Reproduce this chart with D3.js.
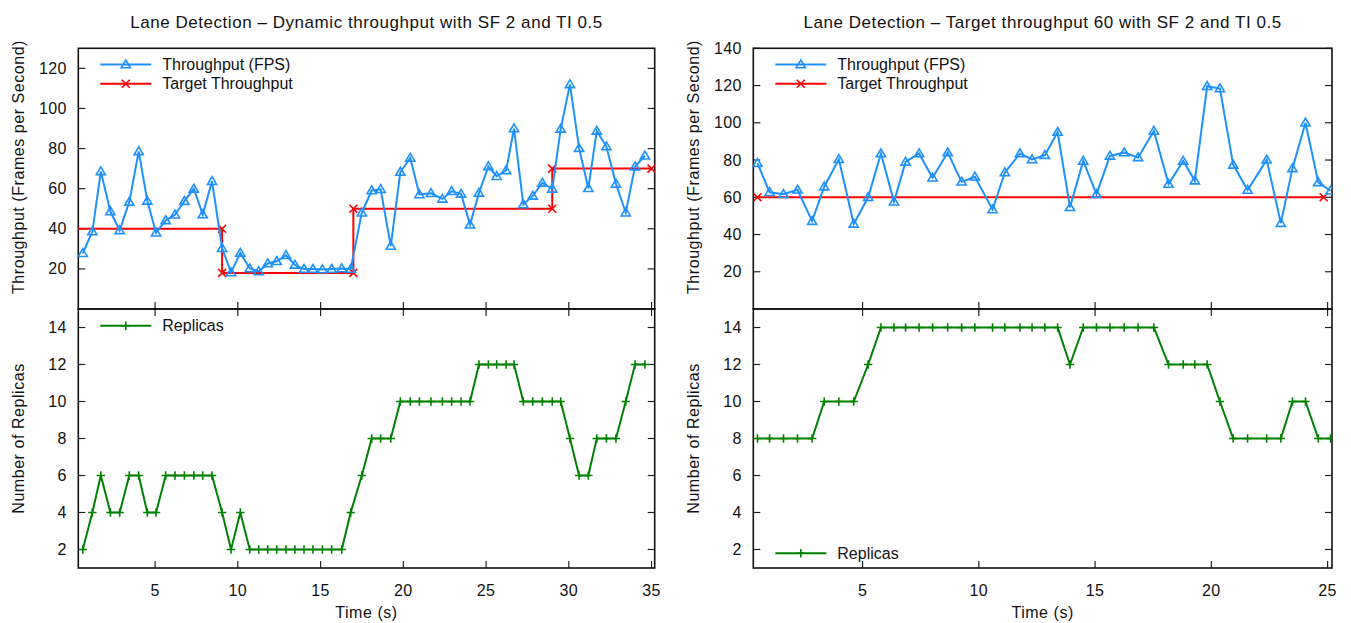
<!DOCTYPE html>
<html>
<head>
<meta charset="utf-8">
<script src="https://cdn.jsdelivr.net/npm/d3@7"></script>
<style>
body { margin: 0; background: #fff; }
text { font-family: "Liberation Sans", Arial, Helvetica, sans-serif; font-size: 16px; fill: #111; }
.title { font-size: 17px; letter-spacing: 0.55px; }
.axis_label { letter-spacing: 0.55px; }
</style>
</head>
<body>
<svg id="chart" width="1351" height="623"></svg>
<script>
// Left run: dynamic target
var left_time = [0.63,1.21,1.72,2.30,2.86,3.44,4.01,4.53,5.06,5.64,
    6.20,6.77,7.34,7.88,8.44,9.05,9.59,10.15,10.72,11.26,
    11.81,12.35,12.91,13.45,14.00,14.54,15.11,15.67,16.28,16.82,
    17.49,18.09,18.63,19.24,19.82,20.42,20.97,21.67,22.36,22.92,
    23.49,24.03,24.57,25.14,25.64,26.21,26.69,27.25,27.82,28.40,
    29.00,29.51,30.07,30.62,31.18,31.69,32.27,32.85,33.44,34.00,
    34.60];
var left_fps = [27.8,38.6,68.6,48.6,39.2,53.4,78.6,53.9,38,44.2,
    47,53.8,59.9,47.1,63.7,30.3,18.2,27.9,20.2,18.7,
    22.7,23.8,26.8,22,19.9,19.9,19.7,19.9,20.2,19.9,
    48,59.1,59.7,31.4,68.3,75.3,57.1,57.7,54.9,58.7,
    57.4,42,57.9,71.1,66.2,69.1,90,52.1,56.4,62.9,
    59.9,89.8,112,80.2,60.2,88.8,81,62.4,48,71,
    76.4];
var left_replicas = [2,4,6,4,4,6,6,4,4,6,
    6,6,6,6,6,4,2,4,2,2,
    2,2,2,2,2,2,2,2,2,4,
    6,8,8,8,10,10,10,10,10,10,
    10,10,12,12,12,12,12,10,10,10,
    10,10,8,6,6,8,8,8,10,12,
    12];
var left_target_time = [0,9.05,9.05,16.98,16.98,29.0,29.0,35.0];
var left_target_fps = [40,40,18,18,50,50,70,70];

// Right run: fixed target 60
var right_time = [0.48,1.00,1.60,2.20,2.83,3.35,3.98,4.62,5.24,5.79,
    6.35,6.85,7.43,8.01,8.66,9.26,9.83,10.59,11.12,11.77,
    12.29,12.84,13.39,13.92,14.49,15.06,15.64,16.25,16.85,17.53,
    18.16,18.79,19.29,19.82,20.37,20.94,21.56,22.38,22.99,23.49,
    24.05,24.60,25.13];
var right_fps = [78.3,62.7,61.6,64,47.2,65.7,80.4,45.7,60,83.5,
    57.6,79,83.5,70.5,84,68.3,71,53.4,73.3,83.5,
    80.3,82.6,95,54.6,79.5,61.7,82.2,84,81.4,95.6,
    67.1,79.5,68.9,119.6,118.4,77.4,63.9,80.1,46.1,75.5,
    100,68,63.5];
var right_replicas = [8,8,8,8,8,10,10,10,12,14,
    14,14,14,14,14,14,14,14,14,14,
    14,14,14,12,14,14,14,14,14,14,
    12,12,12,12,10,8,8,8,8,10,
    10,8,8];
var right_target_time = [0.48,24.83];
var right_target_fps = [60,60];

var left_xticks = [5,10,15,20,25,30,35];
var right_xticks = [5,10,15,20,25];
var left_fps_ticks = [20,40,60,80,100,120];
var right_fps_ticks = [20,40,60,80,100,120,140];
var replica_ticks = [2,4,6,8,10,12,14];

var blue = "#1e90ff", red = "#ff0000", green = "#008000";
var svg = d3.select("#chart");

function zip(xs, ys) {
    var res = [];
    for (var i = 0; i < xs.length; i++) res.push({t: xs[i], v: ys[i]});
    return res;
}

// gnuplot style marks
function tri_path(s) { return "M0," + (-s) + "L" + s + "," + (s * 0.7) + "L" + (-s) + "," + (s * 0.7) + "Z"; }
function cross_path(s) { return "M" + (-s) + "," + (-s) + "L" + s + "," + s + "M" + (-s) + "," + s + "L" + s + "," + (-s); }
function plus_path(s) { return "M" + (-s) + ",0L" + s + ",0M0," + (-s) + "L0," + s; }

function add_marks(g, pts, x, y, path, color, fill, sw) {
    g.selectAll(null)
    .data(pts)
    .enter()
    .append("path")
    .attr("transform", function(d) { return "translate(" + x(d.t) + "," + y(d.v) + ")"; })
    .attr("d", path)
    .style("stroke", color)
    .style("stroke-width", sw)
    .style("fill", fill);
}

function add_series(g, pts, x, y, color, path, fill) {
    var line = d3.line().x(function(d) { return x(d.t); }).y(function(d) { return y(d.v); });
    g.append("path")
    .datum(pts)
    .attr("d", line)
    .style("stroke", color)
    .style("stroke-width", 2)
    .style("fill", "none");
    add_marks(g, pts, x, y, path, color, fill, 1.6);
}

function legend_row(x0, yy, label, color, path) {
    svg.append("line")
    .attr("x1", x0).attr("x2", x0 + 51)
    .attr("y1", yy).attr("y2", yy)
    .style("stroke", color).style("stroke-width", 2);
    svg.append("path")
    .attr("transform", "translate(" + (x0 + 25.5) + "," + yy + ")")
    .attr("d", path)
    .style("stroke", color).style("stroke-width", 1.6).style("fill", "none");
    svg.append("text")
    .attr("x", x0 + 62).attr("y", yy).attr("dy", "0.35em")
    .text(label);
}

// One panel: frame, inward mirrored ticks, clipped data
function panel(id, x, y, yticks, xticks, show_xlabels) {
    var r = x.range(), b = y.range();
    svg.append("clipPath").attr("id", id)
    .append("rect").attr("x", r[0]).attr("y", b[1]).attr("width", r[1] - r[0]).attr("height", b[0] - b[1]);

    var ticks = svg.append("g").style("stroke", "#222").style("stroke-width", 1.2);
    yticks.forEach(function(v) {
        ticks.append("line").attr("x1", r[0]).attr("x2", r[0] + 7).attr("y1", y(v)).attr("y2", y(v));
        ticks.append("line").attr("x1", r[1]).attr("x2", r[1] - 7).attr("y1", y(v)).attr("y2", y(v));
        svg.append("text").attr("x", r[0] - 11.5).attr("y", y(v)).attr("dy", "0.35em")
        .style("text-anchor", "end").style("letter-spacing", "0.4px").text(v);
    });
    xticks.forEach(function(v) {
        ticks.append("line").attr("x1", x(v)).attr("x2", x(v)).attr("y1", b[0]).attr("y2", b[0] - 7);
        if (show_xlabels) {
            ticks.append("line").attr("x1", x(v)).attr("x2", x(v)).attr("y1", b[1]).attr("y2", b[1] + 7);
            svg.append("text").attr("x", x(v)).attr("y", 590).attr("dy", "0.35em")
            .style("text-anchor", "middle").style("letter-spacing", "0.4px").text(v);
        }
    });

    svg.append("rect")
    .attr("x", r[0]).attr("y", b[1]).attr("width", r[1] - r[0]).attr("height", b[0] - b[1])
    .style("fill", "none").style("stroke", "#111").style("stroke-width", 1.6);

    return svg.append("g").attr("clip-path", "url(#" + id + ")");
}

function draw_run(side, px, tdomain, fps_max, fps_ticks, xticks, time, fps, reps, ttime, tfps, title, rep_legend_y) {
    var x = d3.scaleLinear().domain(tdomain).range(px);
    var y_top = d3.scaleLinear().domain([0, fps_max]).range([309, 48.3]);
    var y_bot = d3.scaleLinear().domain([1, 15]).range([568, 309]);

    var g1 = panel(side + "_top", x, y_top, fps_ticks, xticks, false);
    add_series(g1, zip(ttime, tfps), x, y_top, red, cross_path(4), "none");
    add_series(g1, zip(time, fps), x, y_top, blue, tri_path(4.6), "none");

    var g2 = panel(side + "_bot", x, y_bot, replica_ticks, xticks, true);
    add_series(g2, zip(time, reps), x, y_bot, green, plus_path(4.2), "none");

    var cx = (px[0] + px[1]) / 2;
    svg.append("text").attr("class", "title").attr("x", cx).attr("y", 22.5).attr("dy", "0.35em")
    .style("text-anchor", "middle").text(title);
    svg.append("text").attr("class", "axis_label").attr("x", cx).attr("y", 612).attr("dy", "0.35em")
    .style("text-anchor", "middle").text("Time (s)");

    var lx = px[0] - 60;
    svg.append("text").attr("class", "axis_label").attr("transform", "translate(" + lx + ",167) rotate(-90)")
    .attr("dy", "0.35em").style("text-anchor", "middle").text("Throughput (Frames per Second)");
    svg.append("text").attr("class", "axis_label").attr("transform", "translate(" + lx + ",438.5) rotate(-90)")
    .attr("dy", "0.35em").style("text-anchor", "middle").text("Number of Replicas");

    legend_row(px[0] + 22, 64.6, "Throughput (FPS)", blue, tri_path(4.6));
    legend_row(px[0] + 22, 83.8, "Target Throughput", red, cross_path(4));
    legend_row(px[0] + 22, rep_legend_y, "Replicas", green, plus_path(4.2));
}

draw_run("left", [78.3, 654.7], [0.36, 35.19], 130, left_fps_ticks, left_xticks,
    left_time, left_fps, left_replicas, left_target_time, left_target_fps,
    "Lane Detection \u2013 Dynamic throughput with SF 2 and TI 0.5", 325.7);

draw_run("right", [753.3, 1332], [0.30, 25.19], 140, right_fps_ticks, right_xticks,
    right_time, right_fps, right_replicas, right_target_time, right_target_fps,
    "Lane Detection \u2013 Target throughput 60 with SF 2 and TI 0.5", 553.3);
</script>
</body>
</html>
